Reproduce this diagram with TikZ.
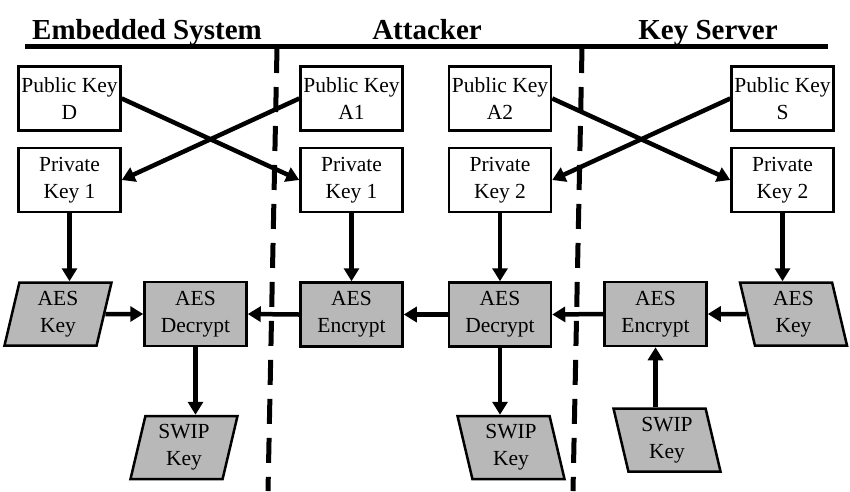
\documentclass[tikz,border=0pt]{standalone}
\usepackage{fontspec}
\setmainfont{Liberation Serif}
\usetikzlibrary{shapes.geometric,arrows.meta,positioning}

\begin{document}
\begin{tikzpicture}[
    x=1pt, y=-1pt,
    keybox/.style={
        rectangle,
        draw=black,
        line width=2.5pt,
        fill=#1,
        minimum width=102pt,
        minimum height=64pt,
        inner sep=0pt,
        align=center,
        font=\fontsize{21.5}{27}\selectfont,
    },
    keybox/.default=white,
    aesbox/.style={
        keybox=black!28,
    },
    datakey/.style={
        trapezium,
        trapezium left angle=#1,
        trapezium right angle=180-#1,
        trapezium stretches body,
        draw=black,
        line width=2.5pt,
        fill=black!28,
        minimum width=107pt,
        minimum height=63pt,
        inner sep=0pt,
        align=center,
        font=\fontsize{21.5}{27}\selectfont,
    },
    sidetitle/.style={
        font=\fontsize{29}{32}\selectfont\bfseries,
        anchor=base,
    },
    divider/.style={
        line width=5pt,
        dash pattern=on 25pt off 14pt,
    },
    arrow/.style={
        -{Triangle[length=13pt, width=15pt]},
        line width=4.5pt,
    },
]
\useasboundingbox (0,0) rectangle (850,491);

% === Titles ===
\node[sidetitle] (tEmb) at (147,39) {Embedded System};
\node[sidetitle] (tAtt) at (427,39) {Attacker};
\node[sidetitle] (tSrv) at (708,39) {Key Server};
\draw[line width=5pt] (25,46) -- (828,46);

% === Dividers ===
\draw[divider] (277,48) -- (268,491);
\draw[divider] (582,48) -- (573,491);

% === Key pairs ===
\node[keybox] (pubD) at (69.5,98.5) {Public Key\\D};
\node[keybox, below=15pt of pubD] (privD) {Private\\Key 1};
\node[keybox] (pubA1) at (351.5,98.5) {Public Key\\A1};
\node[keybox, below=15pt of pubA1] (privA1) {Private\\Key 1};
\node[keybox] (pubA2) at (500,98.5) {Public Key\\A2};
\node[keybox, below=15pt of pubA2] (privA2) {Private\\Key 2};
\node[keybox] (pubS) at (782.5,98.5) {Public Key\\S};
\node[keybox, below=15pt of pubS] (privS) {Private\\Key 2};

% === AES row ===
\node[datakey=72] (aesD) at (58,314) {AES\\Key};
\node[aesbox] (decD) at (195.5,314) {AES\\Decrypt};
\node[aesbox, below=68pt of privA1] (encA) {AES\\Encrypt};
\node[aesbox, below=68pt of privA2] (decA) {AES\\Decrypt};
\node[aesbox] (encS) at (655.5,314) {AES\\Encrypt};
\node[datakey=108] (aesS) at (793.5,314) {AES\\Key};

% === SWIP keys ===
\node[datakey=72] (swipD) at (184,447.5) {SWIP\\Key};
\node[datakey=108] (swipA) at (511,447.5) {SWIP\\Key};
\node[datakey=108] (swipS) at (667,440) {SWIP\\Key};

% === Arrows ===
\draw[arrow] (pubD.east) -- (privA1.west);
\draw[arrow] (pubA1.west) -- (privD.east);
\draw[arrow] (pubA2.east) -- (privS.west);
\draw[arrow] (pubS.west) -- (privA2.east);
\draw[arrow] (privD.south) -- (privD.south |- aesD.north);
\draw[arrow] (privA1.south) -- (encA.north);
\draw[arrow] (privA2.south) -- (decA.north);
\draw[arrow] (privS.south) -- (privS.south |- aesS.north);
\draw[arrow] (aesD.east) -- (decD.west);
\draw[arrow] (encA.west) -- (decD.east);
\draw[arrow] (decA.west) -- (encA.east);
\draw[arrow] (encS.west) -- (decA.east);
\draw[arrow] (aesS.west) -- (encS.east);
\draw[arrow] (decD.south) -- (decD.south |- swipD.north);
\draw[arrow] (decA.south) -- (decA.south |- swipA.north);
\draw[arrow] (encS.south |- swipS.north) -- (encS.south);

\end{tikzpicture}
\end{document}
